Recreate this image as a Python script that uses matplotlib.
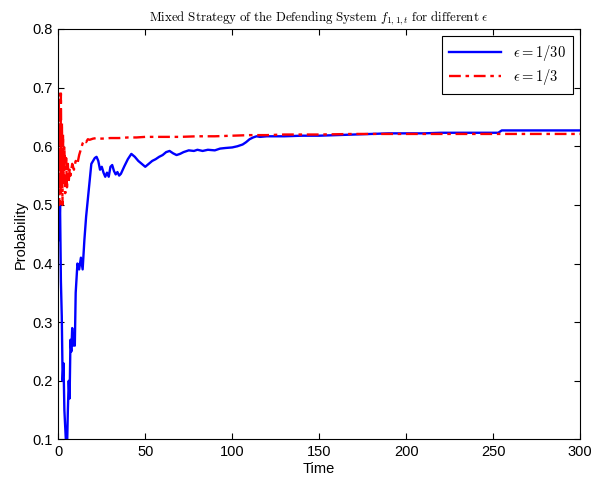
import matplotlib
matplotlib.use("Agg")
import matplotlib.pyplot as plt

# ---- data ----
t_blue = [0, 0.5, 1, 1.5, 2, 2.5, 3, 3.5, 4, 4.5, 5, 5.5, 6, 6.5, 7, 7.5, 8, 8.5, 9, 9.5,
          10, 11, 12, 13, 14, 15, 16, 17, 18, 19, 20, 21, 22, 23, 24, 25, 26, 27, 28, 29,
          30, 31, 32, 33, 34, 35, 36, 38, 40, 42, 44, 46, 48, 50, 52, 54, 56, 58, 60, 62,
          64, 66, 68, 70, 72, 75, 78, 80, 83, 86, 90, 93, 96, 100, 103, 106, 108, 110, 112,
          114, 116, 120, 125, 130, 140, 150, 160, 170, 180, 190, 200, 210, 220, 230, 240,
          250, 253, 255, 260, 270, 280, 290, 300]
p_blue = [0.50, 0.44, 0.50, 0.37, 0.31, 0.20, 0.23, 0.15, 0.12, 0.09, 0.08, 0.15, 0.20, 0.17,
          0.27, 0.25, 0.29, 0.26, 0.28, 0.26, 0.35, 0.40, 0.39, 0.41, 0.39, 0.44, 0.48, 0.51,
          0.54, 0.57, 0.575, 0.58, 0.582, 0.575, 0.56, 0.565, 0.555, 0.548, 0.555, 0.548,
          0.565, 0.568, 0.558, 0.552, 0.556, 0.55, 0.553, 0.566, 0.578, 0.587, 0.582, 0.575,
          0.57, 0.565, 0.57, 0.575, 0.578, 0.582, 0.585, 0.59, 0.592, 0.588, 0.585, 0.587,
          0.59, 0.593, 0.592, 0.594, 0.592, 0.594, 0.593, 0.596, 0.597, 0.598, 0.600, 0.603,
          0.607, 0.612, 0.615, 0.617, 0.616, 0.617, 0.617, 0.617, 0.618, 0.618, 0.619, 0.620,
          0.621, 0.622, 0.622, 0.622, 0.623, 0.623, 0.623, 0.623, 0.623, 0.627, 0.627, 0.627,
          0.627, 0.627, 0.627]

t_red = [0, 0.3, 0.6, 0.9, 1.2, 1.5, 1.8, 2.1, 2.4, 2.7, 3, 3.5, 4, 4.5, 5, 5.5, 6, 6.5, 7,
         8, 9, 10, 11, 12, 13, 14, 15, 16, 17, 18, 20, 22, 25, 30, 35, 40, 45, 50, 60, 70,
         80, 90, 100, 110, 120, 130, 150, 170, 200, 230, 260, 300]
p_red = [0.53, 0.69, 0.50, 0.66, 0.52, 0.69, 0.55, 0.64, 0.50, 0.62, 0.55, 0.60, 0.52, 0.58,
         0.53, 0.57, 0.54, 0.56, 0.55, 0.57, 0.56, 0.575, 0.57, 0.585, 0.595, 0.605, 0.61,
         0.607, 0.612, 0.611, 0.613, 0.614, 0.613, 0.614, 0.614, 0.615, 0.615, 0.616, 0.616,
         0.616, 0.617, 0.617, 0.618, 0.619, 0.619, 0.620, 0.620, 0.621, 0.621, 0.621, 0.621,
         0.621]

labels = [r'$\epsilon = 1/30$', r'$\epsilon = 1/3$']
title = (r'$\mathrm{Mixed\ Strategy\ of\ the\ Defending\ System}\ f_{1,1,t}'
         r'\ \mathrm{for\ different}\ \epsilon$')

plt.rcParams['font.family'] = ['Liberation Sans', 'DejaVu Sans']
plt.rcParams['mathtext.fontset'] = 'cm'

fig = plt.figure(figsize=(5.93, 4.86), dpi=100)
ax = fig.add_axes([0.0983, 0.0957, 0.8798, 0.8447])

ax.plot(t_blue, p_blue, color='#0000ff', lw=1.7, label=labels[0])
ax.plot(t_red, p_red, color='#ff0000', lw=1.7, linestyle=(0, (5, 2, 1.5, 2)), label=labels[1])

ax.set_xlim(0, 300)
ax.set_ylim(0.1, 0.8)
ax.set_xticks([0, 50, 100, 150, 200, 250, 300])
ax.set_yticks([0.1, 0.2, 0.3, 0.4, 0.5, 0.6, 0.7, 0.8])
ax.set_yticklabels(['0.1', '0.2', '0.3', '0.4', '0.5', '0.6', '0.7', '0.8'])
ax.tick_params(direction='in', top=True, right=True, length=4, width=0.8, labelsize=10.5, pad=4)
for s in ax.spines.values():
    s.set_linewidth(0.8)

ax.set_xlabel('Time', fontsize=10.5, labelpad=2)
ax.set_ylabel('Probability', fontsize=10.5, labelpad=3)
ax.set_title(title, fontsize=9.3, pad=6)

leg = ax.legend(loc='upper right', fontsize=10.5, handlelength=3.6, fancybox=False,
                edgecolor='black', framealpha=1, borderaxespad=0.5, labelspacing=0.3,
                borderpad=0.45)
leg.get_frame().set_linewidth(0.8)

fig.savefig('out.png', dpi=100)
